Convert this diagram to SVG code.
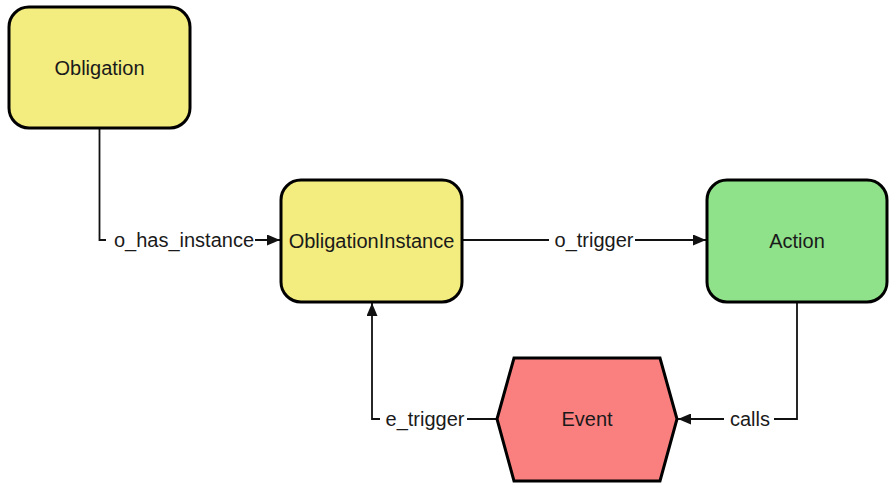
<svg xmlns="http://www.w3.org/2000/svg" width="889" height="483" viewBox="0 0 889 483">
<style>
.node{stroke:#000;stroke-width:3}
.y{fill:#f3ec7f}
.g{fill:#8fe28a}
.r{fill:#fa8080}
.t{font-family:"Liberation Sans",Arial,sans-serif;font-size:20px;fill:#1a1a1a;text-anchor:middle;dominant-baseline:central}
.e{fill:none;stroke:#111;stroke-width:1.8}
.lb{fill:#fff}
</style>
<defs>
<marker id="ah" viewBox="0 0 13 11" refX="13" refY="5.5" markerWidth="13" markerHeight="11" markerUnits="userSpaceOnUse" orient="auto">
<path d="M0,0 L13,5.5 L0,11 z" fill="#111"/>
</marker>
</defs>
<g id="edges">
<path class="e" d="M99.5,128 V240 H280" marker-end="url(#ah)"/>
<path class="e" d="M462,240 H706" marker-end="url(#ah)"/>
<path class="e" d="M797,302 V419 H678" marker-end="url(#ah)"/>
<path class="e" d="M497,419 H372 V303" marker-end="url(#ah)"/>
<rect class="lb" x="106" y="228" width="149" height="24"/>
<text class="t" x="184" y="240">o_has_instance</text>
<rect class="lb" x="549" y="228" width="86" height="24"/>
<text class="t" x="594" y="240">o_trigger</text>
<rect class="lb" x="724" y="407" width="50" height="24"/>
<text class="t" x="750" y="419">calls</text>
<rect class="lb" x="380" y="407" width="87" height="24"/>
<text class="t" x="425" y="419">e_trigger</text>
</g>
<g id="Obligation">
<rect class="node y" x="9" y="7" width="181" height="121" rx="20"/>
<text class="t" x="99.5" y="67.5">Obligation</text>
</g>
<g id="ObligationInstance">
<rect class="node y" x="281" y="180" width="181" height="122" rx="20"/>
<text class="t" x="371.5" y="241">ObligationInstance</text>
</g>
<g id="Action">
<rect class="node g" x="707" y="180" width="180" height="122" rx="20"/>
<text class="t" x="797" y="241">Action</text>
</g>
<g id="Event">
<polygon class="node r" points="514,358 660,358 677,419 660,481 514,481 497,419"/>
<text class="t" x="587" y="419">Event</text>
</g>
</svg>
